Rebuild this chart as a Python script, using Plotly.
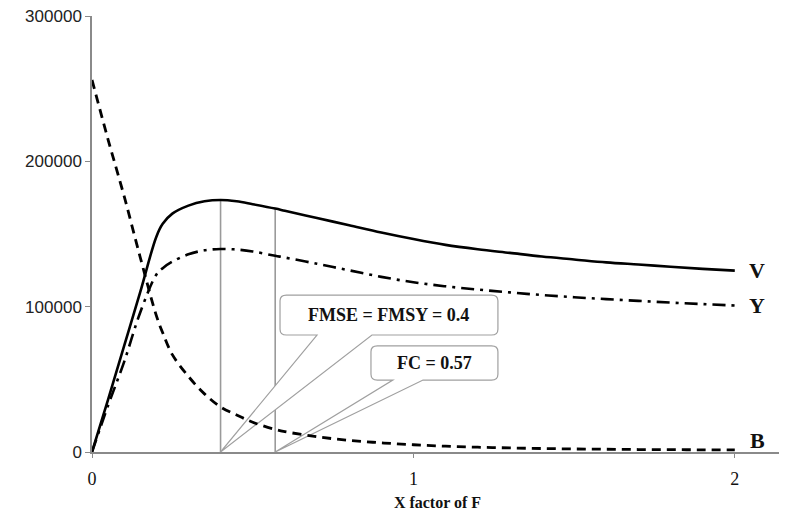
import numpy as np
import plotly.graph_objects as go

# ---- data ----
F = [0, 0.05, 0.1, 0.15, 0.2, 0.22, 0.25, 0.3, 0.35, 0.4, 0.45, 0.5, 0.57, 0.6,
     0.7, 0.8, 0.9, 1.0, 1.1, 1.2, 1.3, 1.4, 1.5, 1.6, 1.7, 1.8, 1.9, 2.0]
V = [0, 36000, 73000, 110000, 148000, 157000, 164000, 169500, 172500, 173400,
     172500, 170500, 167500, 166000, 161000, 156000, 151000, 146500, 142500,
     139500, 137000, 134500, 132500, 130500, 129000, 127500, 126000, 124800]
Y = [0, 32000, 62000, 96000, 122000, 126500, 131000, 136000, 138800, 139700,
     139300, 138000, 135000, 133800, 129500, 125000, 120500, 116800, 114000,
     111800, 109800, 108000, 106500, 105200, 104000, 102800, 101800, 100800]
B = [256000, 215000, 176000, 134000, 94000, 82000, 67000, 52000, 40000, 31000,
     25500, 20500, 15500, 14000, 10500, 8000, 6300, 5000, 4000, 3300, 2800,
     2400, 2100, 1900, 1700, 1600, 1500, 1400]

F_MSY = 0.4
F_C = 0.57
label_msy = "FMSE = FMSY = 0.4"
label_c = "FC = 0.57"
x_ticks = [0, 1, 2]
y_ticks = [0, 100000, 200000, 300000]

fig = go.Figure()
fig.add_trace(go.Scatter(x=F, y=V, mode="lines", line=dict(color="black", width=2.6),
                         line_shape="spline", showlegend=False))
fig.add_trace(go.Scatter(x=F, y=Y, mode="lines",
                         line=dict(color="black", width=2.6, dash="13px,6px,3px,6px"),
                         line_shape="spline", showlegend=False))
fig.add_trace(go.Scatter(x=F, y=B, mode="lines",
                         line=dict(color="black", width=2.8, dash="9px,6px"),
                         line_shape="spline", showlegend=False))

shapes = []
# vertical reference lines up to V curve
for fx in (F_MSY, F_C):
    shapes.append(dict(type="line", xref="x", yref="y", x0=fx, x1=fx, y0=0,
                       y1=float(np.interp(fx, F, V)), layer="below",
                       line=dict(color="#9a9a9a", width=1.6)))


def callout(x0, x1, y0, y1, bx0, bx1, tipx, tipy, rx=0.02, ry=4000):
    # rounded box with a wedge pointer from the bottom edge to the tip
    p = (f"M{x0+rx},{y1} L{x1-rx},{y1} Q{x1},{y1} {x1},{y1-ry} "
         f"L{x1},{y0+ry} Q{x1},{y0} {x1-rx},{y0} "
         f"L{bx1},{y0} L{tipx},{tipy} L{bx0},{y0} "
         f"L{x0+rx},{y0} Q{x0},{y0} {x0},{y0+ry} L{x0},{y1-ry} Q{x0},{y1} {x0+rx},{y1} Z")
    return dict(type="path", xref="x", yref="y", path=p, fillcolor="white",
                layer="below", line=dict(color="#a0a0a0", width=1.2))


shapes.append(callout(0.585, 1.263, 80500, 108000, 0.70, 0.871, F_MSY, 0))
shapes.append(callout(0.868, 1.263, 49500, 73000, 0.936, 1.03, F_C, 0))

ann_font = dict(family="Liberation Serif, Times New Roman, serif", size=18, color="#111")
annotations = [
    dict(x=0.924, y=94300, xref="x", yref="y", text=f"<b>{label_msy}</b>",
         showarrow=False, font=ann_font),
    dict(x=1.065, y=61250, xref="x", yref="y", text=f"<b>{label_c}</b>",
         showarrow=False, font=ann_font),
]
lab_font = dict(family="Liberation Serif, Times New Roman, serif", size=22, color="#111")
for name, yy in (("V", V[-1]), ("Y", Y[-1]), ("B", 8000)):
    annotations.append(dict(x=2.07, y=yy, xref="x", yref="y", text=f"<b>{name}</b>",
                            showarrow=False, font=lab_font))

# page body has an 8px default margin, so the figure is sized to fit inside it
fig.update_layout(
    width=779, height=516,
    margin=dict(l=84, r=4, t=8, b=72),
    paper_bgcolor="white", plot_bgcolor="white",
    shapes=shapes, annotations=annotations,
    xaxis=dict(range=[0, 2.15], tickvals=x_ticks, ticktext=[str(t) for t in x_ticks],
               automargin=False,
               showgrid=False, zeroline=False, showline=True, linecolor="#8a8a8a",
               linewidth=1.5, ticks="outside", ticklen=4, tickcolor="#8a8a8a",
               ticklabelstandoff=6,
               tickfont=dict(family="Liberation Serif, Times New Roman, serif", size=18,
                             color="#111"),
               title=dict(text="<b>X factor of F</b>", standoff=8,
                          font=dict(family="Liberation Serif, Times New Roman, serif",
                                    size=16, color="#111"))),
    yaxis=dict(range=[0, 300000], tickvals=y_ticks, ticktext=[str(t) for t in y_ticks],
               automargin=False, ticklabeloverflow="allow",
               showgrid=False, zeroline=False, showline=True, linecolor="#8a8a8a",
               linewidth=1.5, ticks="outside", ticklen=5, tickcolor="#8a8a8a",
               tickfont=dict(family="Liberation Sans, Arial, sans-serif", size=17,
                             color="#222")),
)

fig.write_html("out.html")
